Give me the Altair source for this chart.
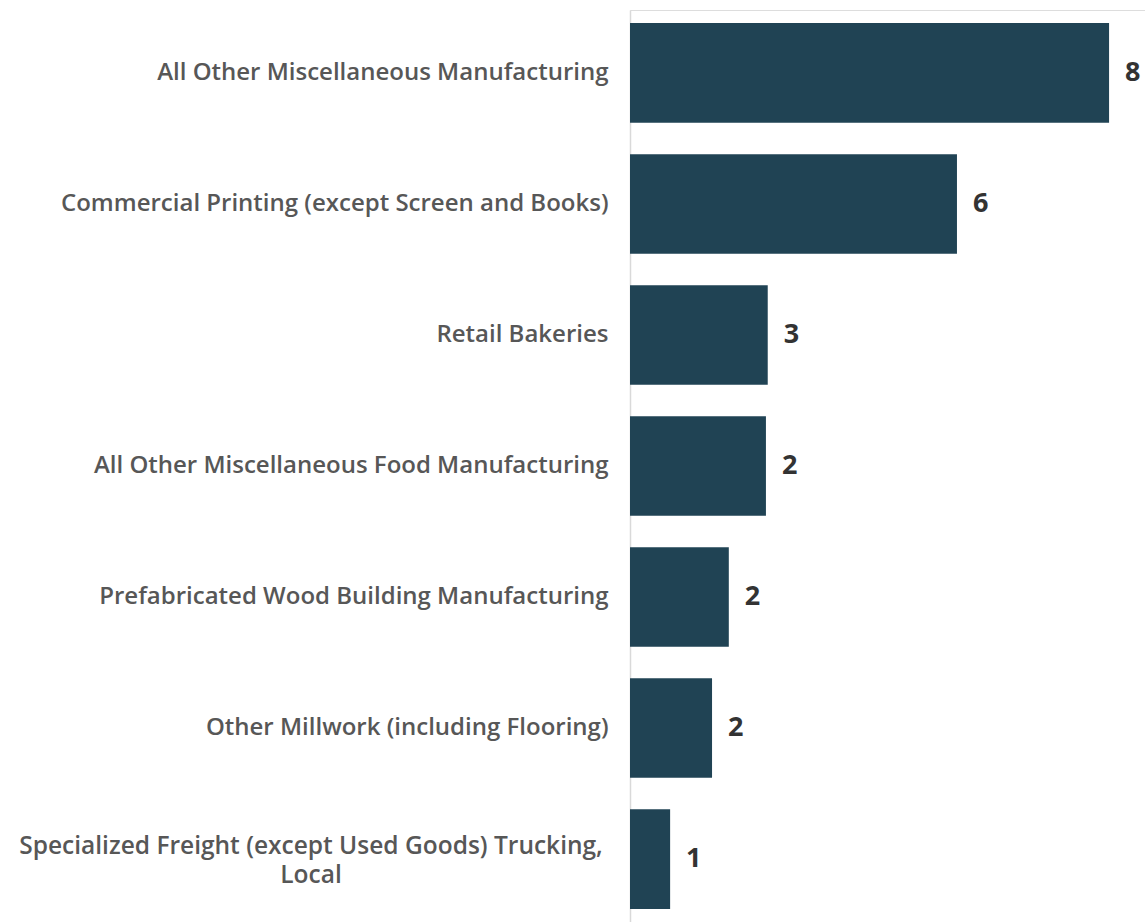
import altair as alt
import pandas as pd

categories = [
    "All Other Miscellaneous Manufacturing",
    "Commercial Printing (except Screen and Books)",
    "Retail Bakeries",
    "All Other Miscellaneous Food Manufacturing",
    "Prefabricated Wood Building Manufacturing",
    "Other Millwork (including Flooring)",
    "Specialized Freight (except Used Goods) Trucking, Local",
]
values = [8.0, 5.46, 2.30, 2.27, 1.65, 1.37, 0.67]
value_labels = ["8", "6", "3", "2", "2", "2", "1"]
wrapped_label = ["Specialized Freight (except Used Goods) Trucking,", "Local"]

df = pd.DataFrame({"category": categories, "value": values, "label": value_labels})
df_wrap = pd.DataFrame({"category": [categories[-1]], "text": [wrapped_label]})

FONT = "Open Sans"
label_expr = ("datum.label == 'Specialized Freight (except Used Goods) Trucking, Local' ? '' : datum.label")

y = alt.Y(
    "category:N",
    sort=categories,
    scale=alt.Scale(paddingInner=0.24, paddingOuter=0.1),
    axis=alt.Axis(
        title=None,
        ticks=False,
        domain=True,
        domainColor="#d9d9d9",
        domainWidth=1.5,
        labelFont=FONT,
        labelFontWeight=600,
        labelFontSize=24,
        labelColor="#575757",
        labelPadding=22,
        labelLimit=700,
        labelExpr=label_expr,
    ),
)
x = alt.X("value:Q", scale=alt.Scale(domain=[0, 8.6]), axis=None)

bars = alt.Chart(df).mark_bar(color="#204354").encode(y=y, x=x)
text = alt.Chart(df).mark_text(
    align="left", baseline="middle", dx=16, font=FONT, fontWeight="bold",
    fontSize=27, color="#333333"
).encode(y=alt.Y("category:N", sort=categories), x=x, text="label:N")

wrap = alt.Chart(df_wrap).mark_text(
    align="center", baseline="middle", dx=-319, dy=-12, font=FONT, fontWeight=600,
    fontSize=24.5, color="#575757", lineHeight=29
).encode(y=alt.Y("category:N", sort=categories), x=alt.value(0), text="text")

chart = (bars + text + wrap).properties(
    width=515, height=912,
    autosize=alt.AutoSizeParams(type="none"),
    padding={"left": 630, "top": 10, "right": 0, "bottom": 0},
).configure_view(stroke=None).configure(background="white")

chart.save("out.html", embed_options={"renderer": "svg", "actions": False})
